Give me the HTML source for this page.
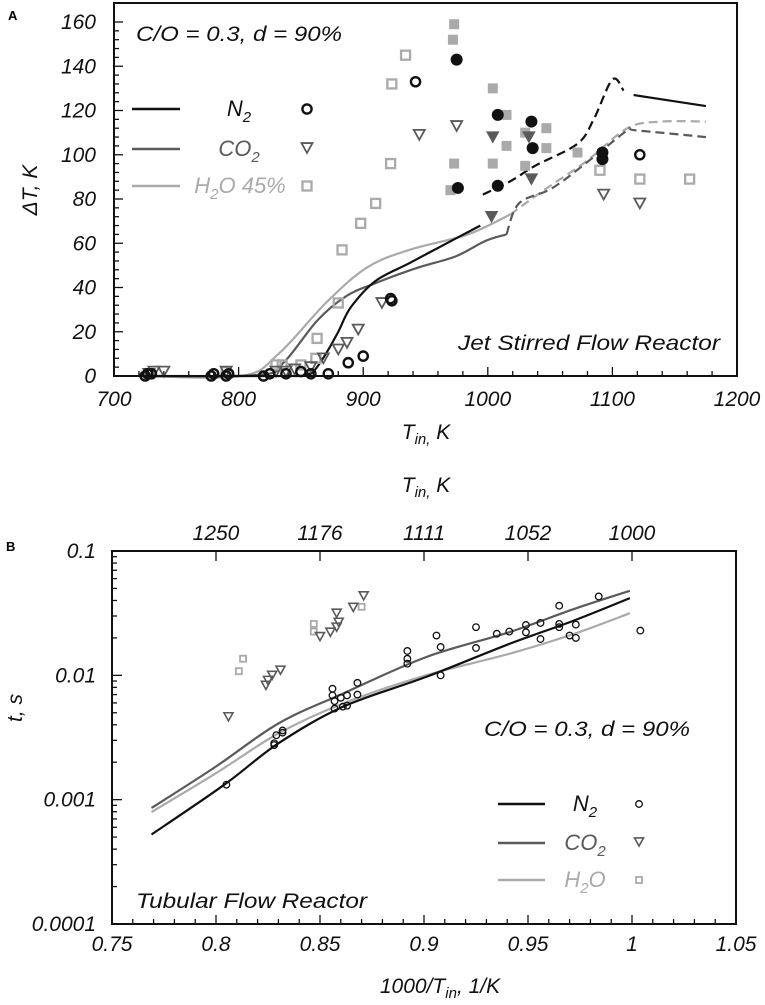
<!DOCTYPE html>
<html><head><meta charset="utf-8"><style>
html,body{margin:0;padding:0;background:#fff;}
svg{display:block;font-family:"Liberation Sans",sans-serif;}
text{font-style:italic;}
</style></head><body>
<svg id="fig" width="765" height="1005" viewBox="0 0 765 1005"></svg>
<script>
// ---------- Panel A data ----------
const aXTicks=[700,800,900,1000,1100,1200];
const aYTicks=[0,20,40,60,80,100,120,140,160];
const aN2Solid=[[720,0],[845,0],[855,1],[860,2],[870,10],[880,20],[890,31],[910,43],[937,51],[967,60],[994,68]];
const aN2Dash1=[[996,82],[1018,88],[1038,95],[1072,105],[1085,116],[1100,134],[1109,129]];
const aN2Solid2=[[1117,127],[1175,122]];
const aCO2Solid=[[720,0],[816,0.5],[836,6],[863,25],[886,36],[910,42],[944,49],[974,54],[998,61],[1015,64]];
const aCO2Dash=[[1015,64],[1025,78],[1052,85],[1085,99],[1112,111],[1119,111],[1175,108]];
const aH2OSolid=[[720,0],[802,0],[832,10],[870,33],[903,49],[937,57],[984,64],[1018,73]];
const aH2ODash=[[1018,73],[1045,84],[1079,97],[1112,112],[1139,115],[1175,115]];
const aN2Open=[[725,0],[727,1],[730,1],[778,0],[780,1],[790,0],[792,1],[820,0],[825,1],[838,1],[850,2],[858,1],[872,1],[888,6],[900,9],[923,34],[922,35],[942,133],[1122,100]];
const aN2Fill=[[975,143],[976,85],[1008,118],[1008,86],[1035,115],[1036,103],[1092,101],[1092,98]];
const aCO2Open=[[728,1],[732,2],[740,2],[790,2],[830,2],[838,2],[845,3],[858,4],[868,8],[880,12],[887,15],[896,21],[915,33],[945,109],[975,113],[1093,82],[1122,78]];
const aCO2Fill=[[1004,108],[1003,72],[1033,108],[1035,89]];
const aH2OOpen=[[728,1],[790,2],[830,5],[835,5],[850,5],[862,8],[863,17],[880,33],[883,57],[898,69],[910,78],[922,96],[923,132],[934,145],[1090,93],[1122,89],[1162,89]];
const aH2OFill=[[973,159],[972,152],[970,84],[973,96],[1004,130],[1004,96],[1015,118],[1015,104],[1030,95],[1030,110],[1047,112],[1047,103],[1072,101]];
// ---------- Panel B data ----------
const bXTicks=[0.75,0.8,0.85,0.9,0.95,1,1.05];
const bXTickLabels=["0.75","0.8","0.85","0.9","0.95","1","1.05"];
const bTopTicks=[0.8,0.85,0.9,0.95,1];
const bTopLabels=["1250","1176","1111","1052","1000"];
const bYTicks=[0.1,0.01,0.001,0.0001];
const bYLabels=["0.1","0.01","0.001","0.0001"];
const bN2Line=[[0.769,-3.28],[0.804,-2.88],[0.830,-2.547],[0.861,-2.253],[0.901,-2.013],[0.941,-1.747],[0.972,-1.56],[0.999,-1.379]];
const bCO2Line=[[0.769,-3.067],[0.800,-2.733],[0.830,-2.387],[0.861,-2.147],[0.901,-1.853],[0.941,-1.653],[0.972,-1.467],[0.999,-1.32]];
const bH2OLine=[[0.769,-3.10],[0.800,-2.787],[0.830,-2.467],[0.861,-2.227],[0.901,-2.0],[0.941,-1.827],[0.972,-1.667],[0.999,-1.50]];
const bN2Pts=[[.805,.00132],[.828,.00284],[.828,.00275],[.829,.0033],[.832,.00346],[.832,.0036],[.856,.0078],[.856,.0069],[.857,.0062],[.857,.0054],[.860,.0066],[.861,.0056],[.863,.0069],[.863,.0057],[.868,.0087],[.868,.0070],[.892,.0157],[.892,.0136],[.892,.0124],[.906,.0209],[.908,.0169],[.908,.0100],[.925,.0244],[.925,.0166],[.935,.0216],[.941,.0225],[.949,.0254],[.949,.0222],[.956,.0264],[.956,.0196],[.965,.0363],[.965,.0259],[.965,.0244],[.970,.0209],[.973,.0256],[.973,.0200],[.984,.0431],[1.004,.0229]];
const bCO2Pts=[[.806,.00464],[.824,.0083],[.825,.0091],[.827,.0100],[.831,.011],[.850,.0205],[.855,.0222],[.858,.0244],[.859,.0267],[.858,.0316],[.866,.0352],[.871,.0436]];
const bH2OPts=[[.811,.0108],[.813,.0136],[.847,.0259],[.847,.0225],[.870,.0356]];

const NS="http://www.w3.org/2000/svg";
const svg=document.getElementById('fig');
function mk(tag,attrs,parent,txt){const e=document.createElementNS(NS,tag);for(const k in attrs)e.setAttribute(k,attrs[k]);if(txt!==undefined)e.textContent=txt;(parent||svg).appendChild(e);return e;}
const C_N2="#111",C_CO2="#5a5a5a",C_H2O="#aaaaaa";
const FS=21;

const ax=v=>114+(v-700)*(737-114)/500;
const ay=v=>376-v*(376-22)/160;
const bx=v=>112+(v-0.75)*(736-112)/0.3;
const byl=l=>551+(-1-l)*(924-551)/3;
const by=v=>byl(Math.log10(v));

function smoothPath(P){
  let d='M'+P[0][0].toFixed(1)+','+P[0][1].toFixed(1);
  for(let i=0;i<P.length-1;i++){
    const p0=P[Math.max(0,i-1)],p1=P[i],p2=P[i+1],p3=P[Math.min(P.length-1,i+2)];
    const c1=[p1[0]+(p2[0]-p0[0])/6,p1[1]+(p2[1]-p0[1])/6];
    const c2=[p2[0]-(p3[0]-p1[0])/6,p2[1]-(p3[1]-p1[1])/6];
    d+=` C${c1[0].toFixed(1)},${c1[1].toFixed(1)} ${c2[0].toFixed(1)},${c2[1].toFixed(1)} ${p2[0].toFixed(1)},${p2[1].toFixed(1)}`;
  }
  return d;
}
function poly(pts,fx,fy,stroke,dash,name){
  const P=pts.map(p=>[fx(p[0]),fy(p[1])]);
  const e=mk('path',{d:smoothPath(P),fill:'none',stroke:stroke,'stroke-width':2.2,'stroke-dasharray':dash||'none'});
  
  
}
function circ(x,y,r,fill,stroke,sw,name){
  const e=mk('circle',{cx:x,cy:y,r:r,fill:fill,stroke:stroke,'stroke-width':sw});
  
  
}
function sq(x,y,s,fill,stroke,sw,name){
  const e=mk('rect',{x:x-s/2,y:y-s/2,width:s,height:s,fill:fill,stroke:stroke,'stroke-width':sw});
  
  
}
function tri(x,y,s,fill,stroke,sw,name){
  const h=s*0.9;
  const e=mk('path',{d:`M${x-s/2},${y-h/2} L${x+s/2},${y-h/2} L${x},${y+h/2} Z`,fill:fill,stroke:stroke,'stroke-width':sw});
  
  
}
function txt(x,y,s,attrs,name){
  const a=Object.assign({x:x,y:y,'font-size':FS,fill:'#111'},attrs||{});
  const e=mk('text',a,svg,s);
  
  
  return e;
}

// ===== Panel A =====
let t=mk('text',{x:8,y:20,'font-size':13,'font-weight':'bold',style:'font-style:normal'},svg,'A');


for(let v=0;v<=160;v+=4){const L=v%20===0?9:5;mk('line',{x1:114,x2:114+L,y1:ay(v),y2:ay(v),stroke:'#111','stroke-width':1.3});}
for(let v=720;v<1200;v+=20){const L=v%100===0?9:5;mk('line',{x1:ax(v),x2:ax(v),y1:376,y2:376-L,stroke:'#111','stroke-width':1.3});}
aYTicks.forEach(v=>{txt(96,ay(v)+7,String(v),{'text-anchor':'end'},'y-tick-label');});
aXTicks.forEach(v=>{txt(ax(v),406,String(v),{'text-anchor':'middle'},'x-tick-label');});
poly(aH2OSolid,ax,ay,C_H2O,null,'h2o-model-line');
poly(aH2ODash,ax,ay,C_H2O,'9,5','h2o-model-dashed');
poly(aCO2Solid,ax,ay,C_CO2,null,'co2-model-line');
poly(aCO2Dash,ax,ay,C_CO2,'9,5','co2-model-dashed');
poly(aN2Solid,ax,ay,C_N2,null,'n2-model-line');
poly(aN2Dash1,ax,ay,C_N2,'9,5','n2-model-dashed');
poly(aN2Solid2,ax,ay,C_N2,null,'n2-model-line-high');
aH2OOpen.forEach(p=>sq(ax(p[0]),ay(p[1]),9,'none',C_H2O,2.3,'h2o-point'));
aH2OFill.forEach(p=>sq(ax(p[0]),ay(p[1]),10,C_H2O,'none',0,'h2o-point-filled'));
aCO2Open.forEach(p=>tri(ax(p[0]),ay(p[1]),11,'none',C_CO2,1.8,'co2-point'));
aCO2Fill.forEach(p=>tri(ax(p[0]),ay(p[1]),11,C_CO2,C_CO2,1.5,'co2-point-filled'));
aN2Open.forEach(p=>circ(ax(p[0]),ay(p[1]),4.6,'none',C_N2,2.4,'n2-point'));
aN2Fill.forEach(p=>circ(ax(p[0]),ay(p[1]),6,C_N2,'none',0,'n2-point-filled'));
let fr=mk('rect',{x:114,y:3,width:623,height:373,fill:'none',stroke:'#111','stroke-width':2});


txt(136,41,'C/O = 0.3, d = 90%',{textLength:206,lengthAdjust:'spacingAndGlyphs'},'panel-a-condition');
txt(458,350,'Jet Stirred Flow Reactor',{textLength:262,lengthAdjust:'spacingAndGlyphs'},'panel-a-reactor');
t=mk('text',{transform:'translate(37,190) rotate(-90)','text-anchor':'middle','font-size':FS,fill:'#111'},svg);


t.innerHTML='ΔT, K';
t=mk('text',{x:426,y:439,'text-anchor':'middle','font-size':FS,fill:'#111'},svg);


t.innerHTML='T<tspan font-size="15" dy="5">in,</tspan><tspan dy="-5"> K</tspan>';
[[109,C_N2,'N<tspan font-size="15" dy="6">2</tspan>',239],[149,C_CO2,'CO<tspan font-size="15" dy="6">2</tspan>',239],[186,C_H2O,'H<tspan font-size="15" dy="6">2</tspan><tspan dy="-6">O 45%</tspan>',240]].forEach(r=>{
  const l=mk('line',{x1:132,x2:180,y1:r[0],y2:r[0],stroke:r[1],'stroke-width':2.4});
  
  
  const tx=mk('text',{x:r[3],y:r[0]+7,'text-anchor':'middle','font-size':22,fill:r[1]},svg);
  
  
  tx.innerHTML=r[2];
});
circ(307,109,4.6,'none',C_N2,2.4,'legend-a-n2-marker');
tri(307,148,11,'none',C_CO2,1.8,'legend-a-co2-marker');
sq(307,186,9,'none',C_H2O,2.3,'legend-a-h2o-marker');

// ===== Panel B =====
t=mk('text',{x:6,y:551,'font-size':13,'font-weight':'bold',style:'font-style:normal'},svg,'B');


for(let d=-4;d<-1;d++){for(let m=2;m<=9;m++){const y=byl(d+Math.log10(m));mk('line',{x1:112,x2:117,y1:y,y2:y,stroke:'#111','stroke-width':1.3});}}
bYTicks.forEach((v,i)=>{const y=by(v);mk('line',{x1:112,x2:122,y1:y,y2:y,stroke:'#111','stroke-width':1.3});txt(96,y+7,bYLabels[i],{'text-anchor':'end'},'y-tick-label-b');});
for(let k=76;k<105;k++){const v=k/100;const L=k%5===0?9:5;mk('line',{x1:bx(v),x2:bx(v),y1:924,y2:924-L,stroke:'#111','stroke-width':1.3});}
bXTicks.forEach((v,i)=>txt(bx(v),951,bXTickLabels[i],{'text-anchor':'middle'},'x-tick-label-b'));
bTopTicks.forEach((v,i)=>{mk('line',{x1:bx(v),x2:bx(v),y1:551,y2:561,stroke:'#111','stroke-width':1.3});txt(bx(v),540,bTopLabels[i],{'text-anchor':'middle'},'top-tick-label-b');});
poly(bH2OLine,bx,byl,C_H2O,null,'h2o-model-line-b');
poly(bCO2Line,bx,byl,C_CO2,null,'co2-model-line-b');
poly(bN2Line,bx,byl,C_N2,null,'n2-model-line-b');
bH2OPts.forEach(p=>sq(bx(p[0]),by(p[1]),6,'none',C_H2O,1.8,'h2o-point-b'));
bCO2Pts.forEach(p=>tri(bx(p[0]),by(p[1]),9,'none',C_CO2,1.6,'co2-point-b'));
bN2Pts.forEach(p=>circ(bx(p[0]),by(p[1]),3.3,'none',C_N2,1.3,'n2-point-b'));
fr=mk('rect',{x:112,y:551,width:624,height:373,fill:'none',stroke:'#111','stroke-width':2});


txt(484,736,'C/O = 0.3, d = 90%',{textLength:206,lengthAdjust:'spacingAndGlyphs'},'panel-b-condition');
txt(136,908,'Tubular Flow Reactor',{textLength:231,lengthAdjust:'spacingAndGlyphs'},'panel-b-reactor');
t=mk('text',{transform:'translate(22,708) rotate(-90)','text-anchor':'middle','font-size':FS,fill:'#111'},svg);


t.innerHTML='t, s';
t=mk('text',{x:426,y:492,'text-anchor':'middle','font-size':FS,fill:'#111'},svg);


t.innerHTML='T<tspan font-size="15" dy="5">in,</tspan><tspan dy="-5"> K</tspan>';
t=mk('text',{x:440,y:993,'text-anchor':'middle','font-size':FS,fill:'#111'},svg);


t.innerHTML='1000/T<tspan font-size="15" dy="5">in</tspan><tspan dy="-5">, 1/K</tspan>';
[[804,C_N2,'N<tspan font-size="15" dy="6">2</tspan>'],[843,C_CO2,'CO<tspan font-size="15" dy="6">2</tspan>'],[880,C_H2O,'H<tspan font-size="15" dy="6">2</tspan><tspan dy="-6">O</tspan>']].forEach(r=>{
  const l=mk('line',{x1:498,x2:545,y1:r[0],y2:r[0],stroke:r[1],'stroke-width':2.4});
  
  
  const tx=mk('text',{x:585,y:r[0]+7,'text-anchor':'middle','font-size':22,fill:r[1]},svg);
  
  
  tx.innerHTML=r[2];
});
circ(639,804,3.3,'none',C_N2,1.3,'legend-b-n2-marker');
tri(639,842,9,'none',C_CO2,1.6,'legend-b-co2-marker');
sq(639,880,6,'none',C_H2O,1.8,'legend-b-h2o-marker');
</script>
</body></html>
